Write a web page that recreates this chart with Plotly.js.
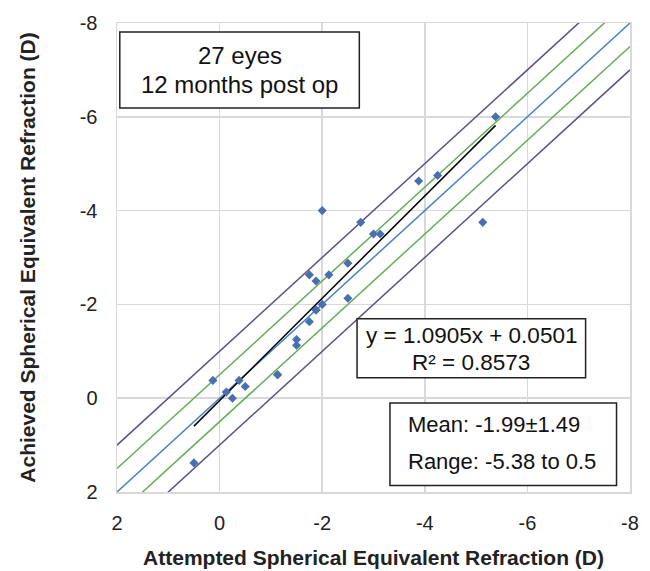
<!DOCTYPE html>
<html>
<head>
<meta charset="utf-8">
<script src="https://cdn.plot.ly/plotly-3.0.1.min.js"></script>
<style>html,body{margin:0;padding:0;background:#fff;}#chart{width:650px;height:571px;}</style>
</head>
<body>
<div id="chart"></div>
<script>
// Attempted (x) vs achieved (y) spherical equivalent refraction, D
const attempted = [-5.38, -4.25, -3.88, -2.0, -2.75, -5.13, -3.0, -3.13, -2.5, -1.75, -2.13, -1.88, -2.5, -2.0, -1.88, -1.88, -1.75, -1.5, -1.5, -1.13, -1.13, -0.5, -0.38, -0.25, -0.13, 0.13, 0.5];
const achieved  = [-6.0, -4.75, -4.63, -4.0, -3.75, -3.75, -3.5, -3.5, -2.88, -2.63, -2.63, -2.5, -2.13, -2.0, -1.88, -1.88, -1.63, -1.25, -1.13, -0.5, -0.5, -0.25, -0.38, 0.0, -0.13, -0.38, 1.38];
const tickValues = [2, 0, -2, -4, -6, -8];
const tickLabels = ['2', '0', '-2', '-4', '-6', '-8'];
const lineSpan = [2, -8];
const trendSlope = 1.0905;
const trendIntercept = 0.0501;
const trendSpan = [0.5, -5.38];
const offsets = [-1, -0.5, 0, 0.5, 1];
const offsetColors = ['#5e4f8c', '#63ae57', '#4a7fcb', '#63ae57', '#5e4f8c'];

const FONT = 'Liberation Sans, Arial, sans-serif';
const traces = [];
offsets.forEach((o, i) => {
  traces.push({
    x: lineSpan, y: lineSpan.map(v => v + o), mode: 'lines',
    line: {color: offsetColors[i], width: 1.5}, hoverinfo: 'skip', showlegend: false
  });
});
traces.push({
  x: trendSpan, y: trendSpan.map(v => trendSlope * v + trendIntercept), mode: 'lines',
  line: {color: '#000000', width: 1.5}, showlegend: false
});
traces.push({
  x: attempted, y: achieved, mode: 'markers', type: 'scatter',
  marker: {symbol: 'diamond', size: 7, color: '#4a6fb0'}, showlegend: false
});

// plot area in pixels: left 116.5, right 630.5, top 23.3, bottom 492.3
const L = 116.5, R = 630.5, T = 23.3, B = 492.3;
const px = v => (v - L) / (R - L);
const py = v => (B - v) / (B - T);

function box(x0, x1, y0, y1) {
  return {type: 'rect', xref: 'paper', yref: 'paper', x0: px(x0), x1: px(x1), y0: py(y1), y1: py(y0),
          line: {color: '#222', width: 1.5}, fillcolor: '#ffffff', layer: 'above'};
}
function txt(t, x, y, size, anchor) {
  return {xref: 'paper', yref: 'paper', x: px(x), y: py(y), text: t, showarrow: false,
          xanchor: anchor, yanchor: 'middle', font: {family: FONT, size: size, color: '#111'}};
}

const layout = {
  width: 650, height: 571,
  margin: {l: L, r: 650 - R, t: T, b: 571 - B},
  paper_bgcolor: '#fff', plot_bgcolor: '#fff',
  font: {family: FONT, color: '#222'},
  xaxis: {
    range: [2, -8], tickvals: tickValues, ticktext: tickLabels,
    showgrid: true, gridcolor: '#d9d9d9', gridwidth: 1.5, zeroline: false,
    showline: true, mirror: true, linecolor: '#d9d9d9', linewidth: 1.5,
    ticks: '', ticklabelstandoff: 12, tickfont: {size: 20, color: '#222'},
    title: {text: 'Attempted Spherical Equivalent Refraction (D)', font: {size: 21, color: '#222', weight: 'bold'}, standoff: 18}
  },
  yaxis: {
    range: [2, -8], tickvals: tickValues, ticktext: tickLabels,
    showgrid: true, gridcolor: '#d9d9d9', gridwidth: 1.5, zeroline: false,
    showline: true, mirror: true, linecolor: '#d9d9d9', linewidth: 1.5,
    ticks: '', ticklabelstandoff: 14, tickfont: {size: 20, color: '#222'},
    title: {text: 'Achieved Spherical Equivalent Refraction (D)', font: {size: 21, color: '#222', weight: 'bold'}, standoff: 38}
  },
  shapes: [
    box(119.3, 359.3, 32.3, 108.3),
    box(357, 586, 319, 378),
    box(390, 617, 403.3, 485.7)
  ],
  annotations: [
    txt('27 eyes', 239.3, 56, 24, 'center'),
    txt('12 months post op', 239.3, 85, 24, 'center'),
    txt('y = 1.0905x + 0.0501', 471.5, 336, 22.5, 'center'),
    txt('R² = 0.8573', 471.5, 363, 22.5, 'center'),
    txt('Mean: -1.99±1.49', 406, 425, 22, 'left'),
    txt('Range: -5.38 to 0.5', 406, 462, 22, 'left')
  ]
};

Plotly.newPlot('chart', traces, layout, {displayModeBar: false, staticPlot: true});
</script>
</body>
</html>
